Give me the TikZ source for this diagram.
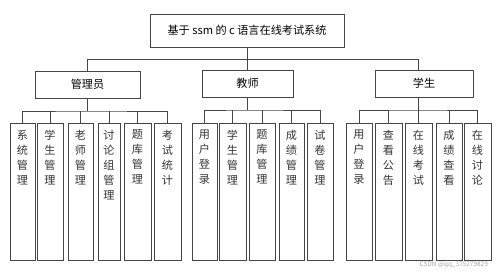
\documentclass[tikz,border=0pt]{standalone}
\usepackage{fontspec}
\newfontfamily\cjk{Noto Sans CJK SC}
\usetikzlibrary{positioning,calc}
\definecolor{edge}{RGB}{70,70,70}

\begin{document}
\begin{tikzpicture}[
    x=0.03cm, y=-0.03cm,
    box/.style={rectangle, draw=edge, line width=0.6pt, inner sep=0pt, align=center, font=\cjk\fontsize{9.5}{12.8}\selectfont},
    leaf/.style={box, minimum height=137*0.03cm},
    leaftext/.style={anchor=north, inner sep=0pt, yshift=-6pt, align=center, font=\cjk\fontsize{9.5}{12.8}\selectfont, text=black!80},
    line/.style={draw=edge, line width=0.6pt},
]
\useasboundingbox (0,0) rectangle (498,272);

% Title
\node[box, minimum width=194*0.03cm, minimum height=33*0.03cm] (title) at (247,30.5) {基于 ssm 的 c 语言在线考试系统};

% Roles
\node[box, minimum width=105*0.03cm, minimum height=27*0.03cm] (admin) at (87.5,84.5) {管理员};
\node[box, minimum width=91*0.03cm, minimum height=27*0.03cm] (teacher) at (247.5,83.5) {教师};
\node[box, minimum width=98*0.03cm, minimum height=27*0.03cm] (student) at (424,83.5) {学生};

% Trunk
\coordinate (bus) at (247,59);
\coordinate (j1) at (87.5,59);
\coordinate (j3) at (418,59);
\draw[line] (title) -- (bus);
\draw[line] (j1) -- (j3);
\draw[line] (j1) -- (admin);
\draw[line] (bus) -- (bus |- teacher.north);
\draw[line] (j3) -- (j3 |- student.north);

% Admin functions
\foreach \n/\x/\w/\t in {a1/22.5/25/系\\统\\管\\理, a2/50/26/学\\生\\管\\理, a3/80.5/25/老\\师\\管\\理,
    a4/109/22/讨\\论\\组\\管\\理, a5/137.5/27/题\\库\\管\\理, a6/167.5/27/考\\试\\统\\计}{
    \node[leaf, minimum width=\w*0.03cm] (\n) at (\x,191.5) {};
    \node[leaftext] at (\n.north) {\t};
}

% Teacher functions
\foreach \n/\x/\w/\t in {t1/204.5/25/用\\户\\登\\录, t2/232.5/27/学\\生\\管\\理, t3/262/26/题\\库\\管\\理,
    t4/291.5/25/成\\绩\\管\\理, t5/320/26/试\\卷\\管\\理}{
    \node[leaf, minimum width=\w*0.03cm] (\n) at (\x,191.5) {};
    \node[leaftext] at (\n.north) {\t};
}

% Student functions
\foreach \n/\x/\w/\t in {s1/359/26/用\\户\\登\\录, s2/388.5/27/查\\看\\公\\告, s3/418.5/27/在\\线\\考\\试,
    s4/449/26/成\\绩\\查\\看, s5/477.5/27/在\\线\\讨\\论}{
    \node[leaf, minimum width=\w*0.03cm] (\n) at (\x,191.5) {};
    \node[leaftext] at (\n.north) {\t};
}

% Branches
\coordinate (ab) at (87.5,111);
\coordinate (tb) at (247.5,110);
\coordinate (sb) at (418,110);
\draw[line] (admin) -- (ab);
\draw[line] (a1.north) |- (ab) -| (a6.north);
\foreach \i in {2,...,5} \draw[line] (a\i.north) -- (a\i.north |- ab);
\draw[line] (teacher) -- (tb);
\draw[line] (t1.north) |- (tb) -| (t5.north);
\foreach \i in {2,...,4} \draw[line] (t\i.north) -- (t\i.north |- tb);
\draw[line] (sb |- student.south) -- (sb);
\draw[line] (s1.north) |- (sb) -| (s5.north);
\foreach \i in {2,...,4} \draw[line] (s\i.north) -- (s\i.north |- sb);

% Watermark
\node[font=\cjk\fontsize{5.5}{6}\selectfont, text=black!35, anchor=east] (mark) at (492,265) {CSDN @qq\_375279829};

\end{tikzpicture}
\end{document}
